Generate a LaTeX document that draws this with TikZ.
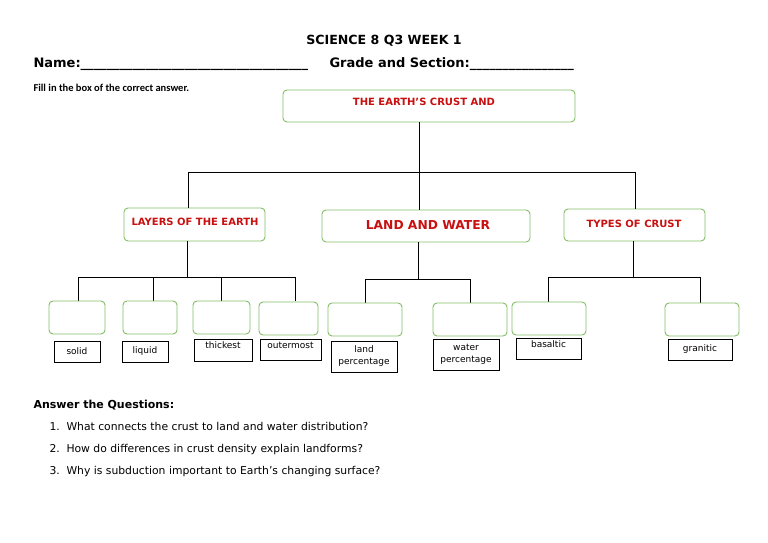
\documentclass[tikz,border=0pt]{standalone}
\usepackage{fontspec}
\setmainfont{DejaVu Sans}
\newfontfamily\narrowfont{Carlito}
\usetikzlibrary{positioning}
\definecolor{boxgreen}{RGB}{130,190,100}
\definecolor{headred}{RGB}{200,16,16}

\begin{document}
\begin{tikzpicture}[x=1pt,y=-1pt,line width=1pt]
    \tikzset{gbox/.style={draw=boxgreen,rounded corners=4pt,line width=0.9pt,inner sep=0pt},
             head/.style={font=\bfseries\fontsize{10}{12}\selectfont,text=headred},
             lbl/.style={draw,line width=0.8pt,inner sep=0pt,align=center,font=\fontsize{9}{12}\selectfont},
             wire/.style={draw=black}}
    \useasboundingbox (0,0) rectangle (768,543);

    % Header
    \node[font=\bfseries\fontsize{12.6}{15}\selectfont] (title) at (384,41) {SCIENCE 8 Q3 WEEK 1};
    \node[anchor=west,font=\bfseries\fontsize{13}{15}\selectfont,inner sep=0] (name) at (33,64) {Name:\_\_\_\_\_\_\_\_\_\_\_\_\_\_\_\_\_\_\_\_\_\_\_\_\_\_\_\_\_\_\_\_\_\_\_};
    \node[anchor=west,font=\bfseries\fontsize{13}{15}\selectfont,inner sep=0] (grade) at (329,64) {Grade and Section:\_\_\_\_\_\_\_\_\_\_\_\_\_\_\_\_};
    \node[anchor=west,font=\narrowfont\bfseries\fontsize{10.5}{12}\selectfont,inner sep=0] (fill) at (33,88) {Fill in the box of the correct answer.};

    % Top box and second level
    \path[gbox] (283,90) rectangle (575,122);
    \node[head] (top) at (424,102) {THE EARTH’S CRUST AND};
    \path[gbox] (124,208) rectangle (265,241);
    \node[head] (layers) at (195,222) {LAYERS OF THE EARTH};
    \path[gbox] (322,210) rectangle (530,242);
    \node[head,font=\bfseries\fontsize{12.3}{14}\selectfont] (land) at (428,225) {LAND AND WATER};
    \path[gbox] (564,209) rectangle (705,241);
    \node[head] (types) at (634,224) {TYPES OF CRUST};

    % Connectors
    \draw[wire] (419,122) -- (419,172);
    \draw[wire] (188,208) -- (188,172) -- (635,172) -- (635,209);
    \draw[wire] (419,172) -- (419,210);

    \draw[wire] (187,241) -- (187,277);
    \draw[wire] (78,301) -- (78,277) -- (295,277) -- (295,301);
    \foreach \x in {153,221} \draw[wire] (\x,277) -- (\x,301);
    \draw[wire] (418,242) -- (418,279);
    \draw[wire] (365,303) -- (365,279) -- (470,279) -- (470,303);
    \draw[wire] (633,241) -- (633,277);
    \draw[wire] (548,302) -- (548,277) -- (700,277) -- (700,303);

    % Answer boxes
    \foreach \a/\b/\c/\d in {49/301/105/334,123/301/177/334,193/301/250/334,259/302/318/335,
                             328/303/402/336,433/303/507/336,512/302/586/335,665/303/739/336}
        \path[gbox,fill=white] (\a,\b) rectangle (\c,\d);

    % Word labels
    \node[lbl,minimum width=46pt,minimum height=21pt] (solid) at (77,351.5) {solid};
    \node[lbl,minimum width=46pt,minimum height=21pt] (liquid) at (145,351.5) {liquid};
    \node[lbl,minimum width=58pt,minimum height=22pt,text depth=9pt] (thickest) at (223,350) {thickest};
    \node[lbl,minimum width=61pt,minimum height=21pt,text depth=9pt] (outer) at (290.5,349.5) {outermost};
    \node[lbl,minimum width=66pt,minimum height=31pt] (landp) at (364,356.5) {land\\percentage};
    \node[lbl,minimum width=66pt,minimum height=31pt] (waterp) at (466,354.5) {water\\percentage};
    \node[lbl,minimum width=65pt,minimum height=21pt,text depth=9pt] (basalt) at (548.5,348.5) {basaltic};
    \node[lbl,minimum width=64pt,minimum height=21pt] (granit) at (700,349.5) {granitic};

    % Questions
    \node[anchor=west,inner sep=0,font=\bfseries\fontsize{11}{13}\selectfont] (ans) at (33,405) {Answer the Questions:};
    \foreach \i/\y/\q in {1/430/{What connects the crust to land and water distribution?},
                          2/452/{How do differences in crust density explain landforms?},
                          3/474/{Why is subduction important to Earth’s changing surface?}}
    {
        \node[anchor=base west,inner sep=0,font=\fontsize{10.8}{13}\selectfont] (n\i) at (49,\y) {\i.};
        \node[anchor=base west,inner sep=0,font=\fontsize{10.8}{13}\selectfont] (q\i) at (66,\y) {\q};
    }
\end{tikzpicture}
\end{document}
